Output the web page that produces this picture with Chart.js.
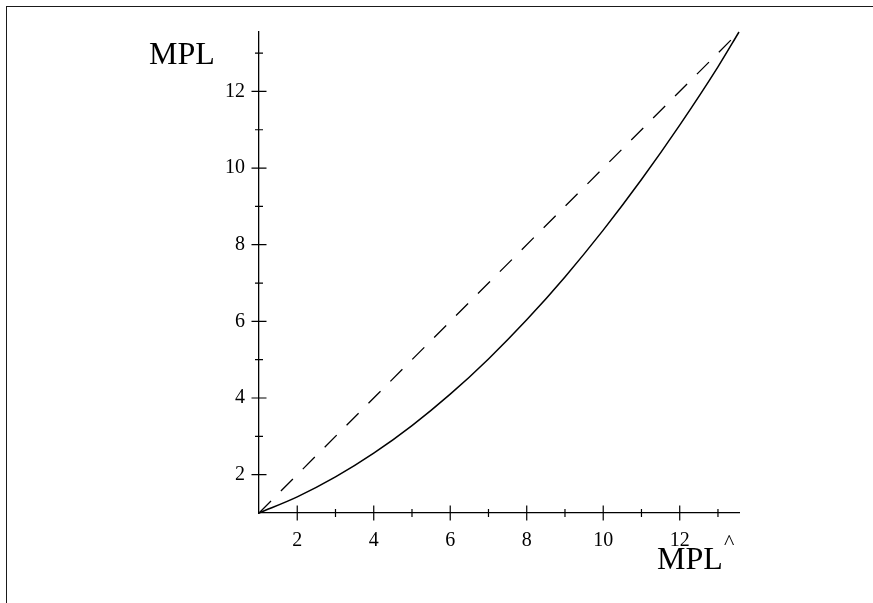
<!DOCTYPE html>
<html>
<head>
<meta charset="utf-8">
<script src="https://cdn.jsdelivr.net/npm/chart.js@4"></script>
<style>
  html, body { margin: 0; padding: 0; background: #fff; }
  #wrap { position: relative; width: 873px; height: 603px; overflow: hidden; }
  #frame { position: absolute; left: 6px; top: 6px; width: 900px; height: 700px;
           border-left: 1px solid #1a1a1a; border-top: 1px solid #1a1a1a; }
  canvas { position: absolute; left: 0; top: 0; }
</style>
</head>
<body>
<div id="wrap">
  <div id="frame"></div>
  <canvas id="graph1" width="873" height="603"></canvas>
</div>
<script>
// MPL^ on the horizontal axis, MPL on the vertical one
var mplHat = [1, 2, 3, 4, 5, 6, 7, 8, 9, 10, 11, 12, 13, 13.55];
var mpl = [1, 1.42, 1.94, 2.56, 3.28, 4.1, 5.02, 6.04, 7.16, 8.38, 9.7, 11.12, 12.64, 13.55];

// 45 degree reference line
var diagX = [1, 13.55];
var diagY = [1, 13.55];

var axisMin = 1;
var axisMax = 13.55;
var tickLabels = [2, 4, 6, 8, 10, 12];
var tickMarks = [2, 3, 4, 5, 6, 7, 8, 9, 10, 11, 12, 13];

var serif = "'Liberation Serif', 'DejaVu Serif', serif";

function pairs(xs, ys) {
  return xs.map(function (x, i) { return { x: x, y: ys[i] }; });
}

// ticks cross the axis lines, bigger on the labelled values
var crossTicks = {
  id: 'crossTicks',
  afterDatasetsDraw: function (chart) {
    var c = chart.ctx, xs = chart.scales.x, ys = chart.scales.y;
    var x0 = xs.getPixelForValue(axisMin), y0 = ys.getPixelForValue(axisMin);
    c.save();
    c.strokeStyle = '#000';
    c.lineWidth = 1.2;
    tickMarks.forEach(function (v) {
      var len = (v % 2 === 0) ? 7.5 : 4;
      var px = xs.getPixelForValue(v), py = ys.getPixelForValue(v);
      c.beginPath();
      c.moveTo(px, y0 - len); c.lineTo(px, y0 + len);
      c.moveTo(x0 - len, py); c.lineTo(x0 + len, py);
      c.stroke();
    });
    c.restore();
  }
};

// axis names in the corners
var axisNames = {
  id: 'axisNames',
  afterDraw: function (chart) {
    var c = chart.ctx;
    c.save();
    c.fillStyle = '#000';
    c.textBaseline = 'alphabetic';
    c.font = '32px ' + serif;
    c.fillText('MPL', 149, 64);
    c.fillText('MPL', 657, 569);
    c.font = '22px ' + serif;
    c.fillText('^', 724, 549);
    c.restore();
  }
};

var ctx = document.getElementById('graph1').getContext('2d');
var chart = new Chart(ctx, {
  type: 'line',
  data: {
    datasets: [{
      label: 'MPL',
      data: pairs(mplHat, mpl),
      borderColor: '#000',
      borderWidth: 1.5,
      pointRadius: 0,
      cubicInterpolationMode: 'monotone',
      fill: false,
      clip: false
    }, {
      label: '45 degree line',
      data: pairs(diagX, diagY),
      borderColor: '#000',
      borderWidth: 1.3,
      borderDash: [17, 14],
      pointRadius: 0,
      fill: false,
      clip: false
    }]
  },
  options: {
    responsive: false,
    animation: false,
    devicePixelRatio: 1,
    layout: { padding: { left: 209, right: 134, top: 32, bottom: 40 } },
    plugins: {
      legend: { display: false },
      tooltip: { enabled: false }
    },
    scales: {
      x: {
        type: 'linear',
        min: axisMin,
        max: axisMax,
        afterBuildTicks: function (s) { s.ticks = tickLabels.map(function (v) { return { value: v }; }); },
        afterFit: function (s) { s.height = 50; },
        grid: { display: false, drawTicks: false },
        border: { display: true, color: '#000', width: 1.3 },
        ticks: { color: '#000', font: { family: serif, size: 20 }, padding: 16, maxRotation: 0 }
      },
      y: {
        type: 'linear',
        min: axisMin,
        max: axisMax,
        afterBuildTicks: function (s) { s.ticks = tickLabels.map(function (v) { return { value: v }; }); },
        afterFit: function (s) { s.width = 50; },
        grid: { display: false, drawTicks: false },
        border: { display: true, color: '#000', width: 1.3 },
        ticks: { color: '#000', font: { family: serif, size: 20 }, padding: 14 }
      }
    }
  },
  plugins: [crossTicks, axisNames]
});
</script>
</body>
</html>
